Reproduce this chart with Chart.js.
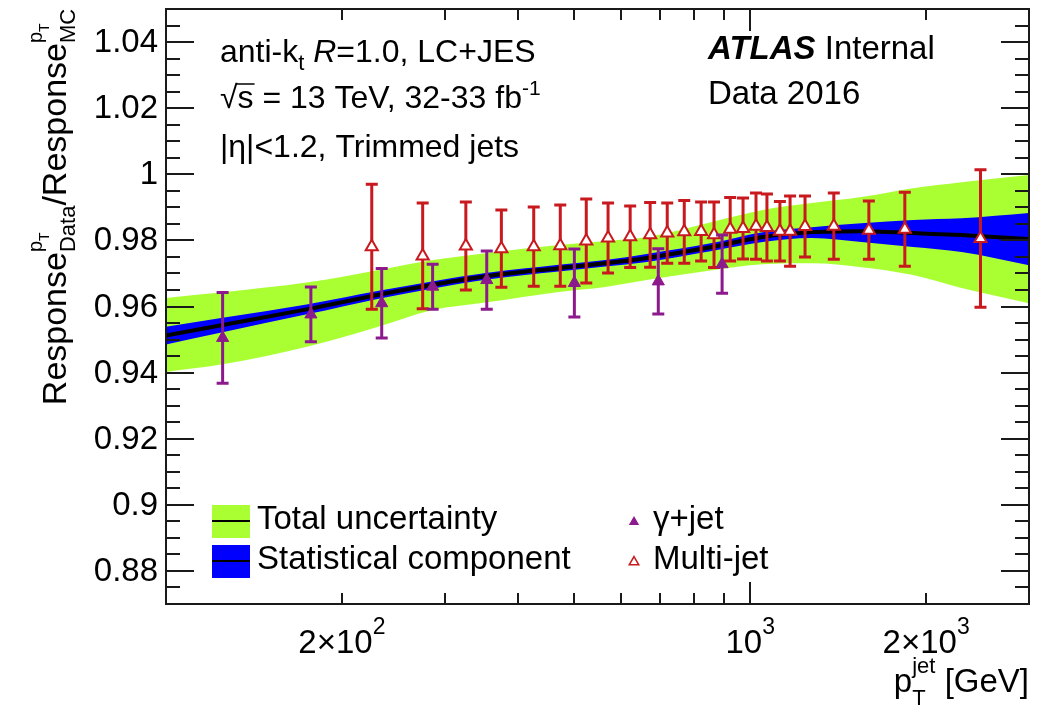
<!DOCTYPE html>
<html>
<head>
<meta charset="utf-8">
<script src="https://cdn.jsdelivr.net/npm/chart.js@4.4.1/dist/chart.umd.min.js"></script>
<style>
html, body { margin: 0; padding: 0; background: #fff; }
canvas { display: block; }
</style>
</head>
<body>
<canvas id="chart" width="1047" height="709"></canvas>
<script>
// band sampling points (GeV) and band edges
const bandPt = [100, 125, 175, 230, 285, 355, 470, 565, 665, 860, 1050, 1275, 1550, 1900, 2300, 3000];
const central = [0.9512, 0.9544, 0.9592, 0.9635, 0.9665, 0.9692, 0.9716, 0.9731, 0.9747, 0.9780, 0.9810, 0.9825, 0.9828, 0.9822, 0.9816, 0.9804];
const totalUp = [0.9626, 0.9643, 0.9673, 0.9710, 0.9740, 0.9762, 0.9786, 0.9798, 0.9810, 0.9856, 0.9892, 0.9913, 0.9931, 0.9958, 0.9976, 0.9998];
const totalLo = [0.9402, 0.9425, 0.9479, 0.9538, 0.9589, 0.9613, 0.9644, 0.9659, 0.9680, 0.9710, 0.9728, 0.9731, 0.9719, 0.9695, 0.9656, 0.9610];
const statUp = [0.9539, 0.9566, 0.9607, 0.9647, 0.9676, 0.9702, 0.9726, 0.9741, 0.9759, 0.9792, 0.9825, 0.9840, 0.9852, 0.9862, 0.9867, 0.9883];
const statLo = [0.9485, 0.9522, 0.9577, 0.9623, 0.9654, 0.9682, 0.9706, 0.9721, 0.9735, 0.9768, 0.9795, 0.9807, 0.9795, 0.9780, 0.9765, 0.9725];

// gamma+jet points
const gammaPt = [125, 177, 234, 286, 354, 500, 696, 895];
const gammaVal = [0.9505, 0.9576, 0.9610, 0.9660, 0.9680, 0.9671, 0.9676, 0.9728];
const gammaErr = [0.0137, 0.0083, 0.0105, 0.0068, 0.0088, 0.0103, 0.0099, 0.0088];

// multi-jet points
const mjPt = [225, 275, 326, 375, 426, 473, 524, 571, 623, 674, 721, 771, 824, 867, 924, 972, 1023, 1068, 1124, 1170, 1241, 1390, 1596, 1839, 2478];
const mjVal = [0.9781, 0.9753, 0.9783, 0.9775, 0.9781, 0.9784, 0.9798, 0.9807, 0.9811, 0.9817, 0.9822, 0.9826, 0.9827, 0.9817, 0.9834, 0.9836, 0.9843, 0.9839, 0.9828, 0.9828, 0.9842, 0.9843, 0.9831, 0.9834, 0.9806];
const mjErr = [0.0189, 0.0160, 0.0133, 0.0117, 0.0120, 0.0123, 0.0127, 0.0106, 0.0093, 0.0098, 0.0091, 0.0095, 0.0089, 0.0099, 0.0096, 0.0092, 0.0100, 0.0101, 0.0090, 0.0106, 0.0092, 0.0100, 0.0088, 0.0112, 0.0208];

// axis ticks
const yMajor = [0.88, 0.90, 0.92, 0.94, 0.96, 0.98, 1.00, 1.02, 1.04];
const xMinorTicks = [200, 300, 400, 500, 600, 700, 800, 900, 2000, 3000];
const xMajorTicks = [1000];
const xLabels = [
  { v: 200, base: '2\u00d710', exp: '2' },
  { v: 1000, base: '10', exp: '3' },
  { v: 2000, base: '2\u00d710', exp: '3' }
];

const GREEN = '#aaff33';
const BLUE = '#0000ff';
const RED = '#c8191e';
const PURPLE = '#8c1a8c';
const FONT = '"Liberation Sans", Arial, Helvetica, sans-serif';

function font(size, style) {
  return (style || '') + ' ' + size + 'px ' + FONT;
}

function pts(xs, ys) {
  return xs.map((x, i) => ({ x: x, y: ys[i] }));
}

// **rich text: plain pieces {t,s,dy,f} or stacked {sup:[..], sub:[..]}**
function runWidth(ctx, pieces) {
  let w = 0;
  pieces.forEach(p => {
    if (p.sup || p.sub) {
      w += Math.max(runWidth(ctx, p.sup || []), runWidth(ctx, p.sub || []));
    } else {
      ctx.font = font(p.s, p.f);
      w += ctx.measureText(p.t).width;
    }
  });
  return w;
}

function drawRun(ctx, pieces, x, y) {
  let cx = x;
  pieces.forEach(p => {
    if (p.sup || p.sub) {
      const w = Math.max(runWidth(ctx, p.sup || []), runWidth(ctx, p.sub || []));
      drawRun(ctx, p.sup || [], cx, y);
      drawRun(ctx, p.sub || [], cx, y);
      cx += w;
    } else {
      ctx.font = font(p.s, p.f);
      ctx.fillText(p.t, cx, y + (p.dy || 0));
      cx += ctx.measureText(p.t).width;
    }
  });
  return cx;
}

function triangle(ctx, x, y, r, fill, stroke) {
  ctx.beginPath();
  ctx.moveTo(x, y - r);
  ctx.lineTo(x + r * 0.866, y + r * 0.5);
  ctx.lineTo(x - r * 0.866, y + r * 0.5);
  ctx.closePath();
  ctx.fillStyle = fill;
  ctx.fill();
  if (stroke) {
    ctx.strokeStyle = stroke;
    ctx.lineWidth = 1.5;
    ctx.stroke();
  }
}

// **error bars, drawn just before their markers**
const errorBars = {
  id: 'errorBars',
  beforeDatasetDraw(chart, args) {
    let xs, ys, es, color;
    if (args.index === 5) { xs = mjPt; ys = mjVal; es = mjErr; color = RED; }
    else if (args.index === 6) { xs = gammaPt; ys = gammaVal; es = gammaErr; color = PURPLE; }
    else return;
    const ctx = chart.ctx;
    const sx = chart.scales.x, sy = chart.scales.y;
    ctx.save();
    ctx.strokeStyle = color;
    ctx.lineWidth = 3;
    xs.forEach((x, i) => {
      const px = sx.getPixelForValue(x);
      const top = sy.getPixelForValue(ys[i] + es[i]);
      const bot = sy.getPixelForValue(ys[i] - es[i]);
      ctx.beginPath();
      ctx.moveTo(px, top); ctx.lineTo(px, bot);
      ctx.moveTo(px - 6, top); ctx.lineTo(px + 6, top);
      ctx.moveTo(px - 6, bot); ctx.lineTo(px + 6, bot);
      ctx.stroke();
    });
    ctx.restore();
  }
};

// **frame, ticks, labels, legend and text**
const decorations = {
  id: 'decorations',
  afterDraw(chart) {
    const ctx = chart.ctx;
    const a = chart.chartArea;
    const sx = chart.scales.x, sy = chart.scales.y;
    ctx.save();
    ctx.strokeStyle = '#1a1a1a';
    ctx.lineWidth = 2;
    ctx.strokeRect(a.left, a.top, a.right - a.left, a.bottom - a.top);

    // y ticks, both sides
    ctx.beginPath();
    for (let k = 0; k <= 36; k++) {
      const v = 0.87 + k * 0.005;
      const py = Math.round(sy.getPixelForValue(v));
      const major = yMajor.some(m => Math.abs(m - v) < 1e-6);
      const len = major ? 28 : 14;
      ctx.moveTo(a.left, py); ctx.lineTo(a.left + len, py);
      ctx.moveTo(a.right, py); ctx.lineTo(a.right - len, py);
    }
    // x ticks, bottom and top
    xMinorTicks.concat(xMajorTicks).forEach(v => {
      const px = Math.round(sx.getPixelForValue(v));
      if (px >= a.right - 1) return;
      const len = xMajorTicks.includes(v) ? 22 : 11;
      ctx.moveTo(px, a.bottom); ctx.lineTo(px, a.bottom - len);
      ctx.moveTo(px, a.top); ctx.lineTo(px, a.top + len);
    });
    ctx.stroke();

    ctx.fillStyle = '#000';
    // y tick labels
    ctx.font = font(33);
    ctx.textAlign = 'right';
    ctx.textBaseline = 'middle';
    yMajor.forEach(v => {
      ctx.fillText(String(parseFloat(v.toFixed(2))), 158, sy.getPixelForValue(v) + 1);
    });

    // x tick labels
    ctx.textAlign = 'left';
    ctx.textBaseline = 'alphabetic';
    xLabels.forEach(l => {
      const pieces = [{ t: l.base, s: 33 }, { t: l.exp, s: 23, dy: -19 }];
      const w = runWidth(ctx, pieces);
      drawRun(ctx, pieces, sx.getPixelForValue(l.v) - w / 2, 653);
    });

    // x title
    const xt = [{ t: 'p', s: 33 }, { sup: [{ t: 'jet', s: 22, dy: -19 }], sub: [{ t: 'T', s: 22, dy: 13 }] }, { t: ' [GeV]', s: 33 }];
    drawRun(ctx, xt, a.right - runWidth(ctx, xt), 692);

    // y title, rotated
    const yt = [
      { t: 'Response', s: 34 },
      { sup: [{ t: 'p', s: 20, dy: -24 }, { t: 'T', s: 14, dy: -17 }], sub: [{ t: 'Data', s: 22, dy: 9 }] },
      { t: '/Response', s: 34 },
      { sup: [{ t: 'p', s: 20, dy: -24 }, { t: 'T', s: 14, dy: -17 }], sub: [{ t: 'MC', s: 22, dy: 9 }] }
    ];
    ctx.save();
    ctx.translate(66, 207);
    ctx.rotate(-Math.PI / 2);
    drawRun(ctx, yt, -runWidth(ctx, yt) / 2, 0);
    ctx.restore();

    // labels top-left
    drawRun(ctx, [{ t: 'anti-k', s: 32 }, { t: 't', s: 22, dy: 8 }, { t: ' ', s: 32 }, { t: 'R', s: 32, f: 'italic' }, { t: '=1.0, LC+JES', s: 32 }], 220, 62);
    const sEnd = drawRun(ctx, [{ t: '\u221a', s: 32 }], 220, 108);
    const s2 = drawRun(ctx, [{ t: 's', s: 32 }], sEnd, 108);
    ctx.lineWidth = 1.5;
    ctx.strokeStyle = '#000';
    ctx.beginPath(); ctx.moveTo(sEnd - 1, 84); ctx.lineTo(s2 + 1, 84); ctx.stroke();
    drawRun(ctx, [{ t: ' = 13 TeV, 32-33 fb', s: 32 }, { t: '-1', s: 21, dy: -13 }], s2, 108);
    drawRun(ctx, [{ t: '|\u03b7|<1.2, Trimmed jets', s: 32 }], 220, 157);

    // ATLAS label
    const atEnd = drawRun(ctx, [{ t: 'ATLAS', s: 33, f: 'italic bold' }], 708, 59);
    drawRun(ctx, [{ t: ' Internal', s: 33 }], atEnd, 59);
    drawRun(ctx, [{ t: 'Data 2016', s: 33 }], 708, 104);

    // legend
    ctx.fillStyle = GREEN;
    ctx.fillRect(212, 505, 38, 33);
    ctx.fillStyle = BLUE;
    ctx.fillRect(212, 545, 38, 33);
    ctx.strokeStyle = '#000';
    ctx.lineWidth = 2;
    ctx.beginPath();
    ctx.moveTo(212, 521); ctx.lineTo(250, 521);
    ctx.moveTo(212, 561); ctx.lineTo(250, 561);
    ctx.stroke();
    ctx.fillStyle = '#000';
    ctx.textBaseline = 'middle';
    ctx.font = font(33);
    ctx.fillText('Total uncertainty', 257, 520);
    ctx.fillText('Statistical component', 257, 560);
    ctx.fillText('\u03b3+jet', 653, 520);
    ctx.fillText('Multi-jet', 653, 560);
    triangle(ctx, 634, 522, 6, PURPLE, null);
    triangle(ctx, 634, 562, 5.5, '#fff', RED);
    ctx.restore();
  }
};

const ctx = document.getElementById('chart').getContext('2d');
const chart = new Chart(ctx, {
  type: 'line',
  data: {
    datasets: [
      { label: 'Total uncertainty', data: pts(bandPt, totalUp), fill: '+1', backgroundColor: GREEN,
        borderColor: 'rgba(0,0,0,0)', borderWidth: 0, pointRadius: 0, cubicInterpolationMode: 'monotone', order: 10 },
      { label: 'total low', data: pts(bandPt, totalLo), fill: false,
        borderColor: 'rgba(0,0,0,0)', borderWidth: 0, pointRadius: 0, cubicInterpolationMode: 'monotone', order: 10 },
      { label: 'Statistical component', data: pts(bandPt, statUp), fill: '+1', backgroundColor: BLUE,
        borderColor: 'rgba(0,0,0,0)', borderWidth: 0, pointRadius: 0, cubicInterpolationMode: 'monotone', order: 8 },
      { label: 'stat low', data: pts(bandPt, statLo), fill: false,
        borderColor: 'rgba(0,0,0,0)', borderWidth: 0, pointRadius: 0, cubicInterpolationMode: 'monotone', order: 8 },
      { label: 'central', data: pts(bandPt, central), fill: false, borderColor: '#000', borderWidth: 4,
        pointRadius: 0, cubicInterpolationMode: 'monotone', order: 6 },
      { label: 'Multi-jet', data: pts(mjPt, mjVal), showLine: false, pointStyle: 'triangle', pointRadius: 7,
        pointBackgroundColor: '#fff', pointBorderColor: RED, pointBorderWidth: 2, order: 4 },
      { label: '\u03b3+jet', data: pts(gammaPt, gammaVal), showLine: false, pointStyle: 'triangle', pointRadius: 7,
        pointBackgroundColor: PURPLE, pointBorderColor: PURPLE, pointBorderWidth: 1, order: 2 }
    ]
  },
  options: {
    responsive: false,
    animation: false,
    devicePixelRatio: 1,
    layout: { padding: { left: 166, right: 18, top: 9, bottom: 105 } },
    scales: {
      x: { type: 'logarithmic', min: 100, max: 3000, display: false },
      y: { type: 'linear', min: 0.87, max: 1.05, display: false }
    },
    plugins: {
      legend: { display: false },
      tooltip: { enabled: false }
    }
  },
  plugins: [errorBars, decorations]
});
</script>
</body>
</html>
